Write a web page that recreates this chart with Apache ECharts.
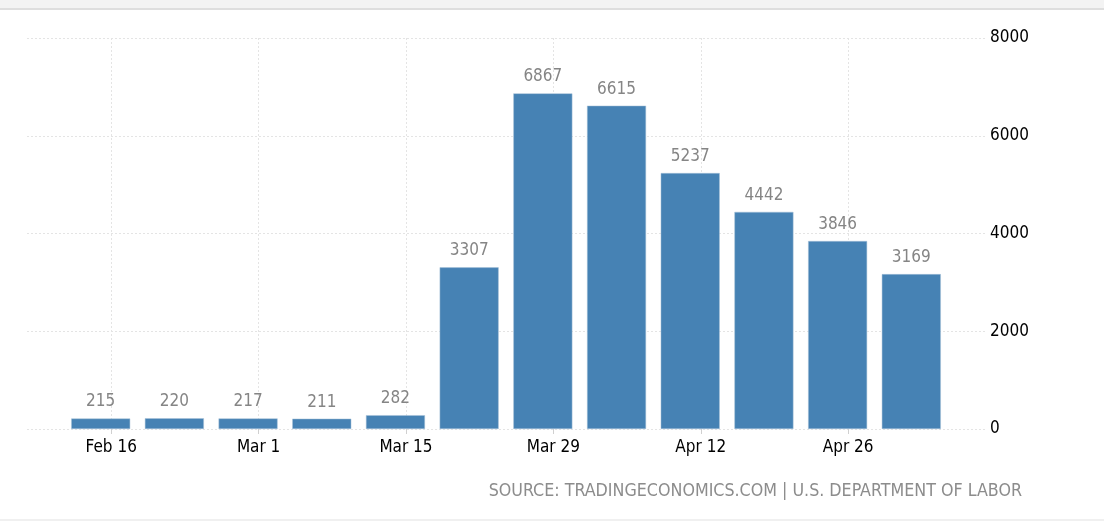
<!DOCTYPE html>
<html>
<head>
<meta charset="utf-8">
<script src="https://cdn.jsdelivr.net/npm/echarts@6/dist/echarts.min.js"></script>
<style>
html,body{margin:0;padding:0;background:#fff;}
#chart{width:1104px;height:521px;}
</style>
</head>
<body>
<div id="chart"></div>
<script>
// ---- data ----
const weeks = ['2020-02-15','2020-02-22','2020-02-29','2020-03-07','2020-03-14','2020-03-21','2020-03-28','2020-04-04','2020-04-11','2020-04-18','2020-04-25','2020-05-02'];
const claims = [215, 220, 217, 211, 282, 3307, 6867, 6615, 5237, 4442, 3846, 3169];
const tickDates = ['2020-02-16','2020-03-01','2020-03-15','2020-03-29','2020-04-12','2020-04-26'];
const tickLabels = ['Feb 16','Mar 1','Mar 15','Mar 29','Apr 12','Apr 26'];
const yTicks = [0, 2000, 4000, 6000, 8000];
const sourceText = 'SOURCE: TRADINGECONOMICS.COM | U.S. DEPARTMENT OF LABOR';

// ---- helpers ----
const BASE = Date.parse('2020-02-16');
const day = d => (Date.parse(d) - BASE) / 86400000;
const tickDays = tickDates.map(day);
const FONT = '"DejaVu Sans Condensed", "DejaVu Sans", sans-serif';

const chart = echarts.init(document.getElementById('chart'), null, {renderer: 'canvas'});
chart.setOption({
  animation: false,
  backgroundColor: '#fff',
  grid: {left: 27, right: 119, top: 38, bottom: 92, containLabel: false},
  xAxis: {
    type: 'value',
    min: day('2020-02-08'),
    max: day('2020-05-09'),
    axisLine: {show: false},
    axisTick: {show: true, customValues: tickDays, length: 5, lineStyle: {color: '#d0d0d0'}},
    axisLabel: {
      customValues: tickDays,
      margin: 10,
      color: '#000',
      fontFamily: FONT,
      fontSize: 17,
      formatter: v => { const i = tickDays.indexOf(v); return i >= 0 ? tickLabels[i] : ''; }
    },
    splitLine: {show: true, lineStyle: {color: '#e4e4e4', type: [2, 2], width: 1}}
  },
  yAxis: {
    type: 'value',
    position: 'right',
    min: yTicks[0],
    max: yTicks[yTicks.length - 1],
    interval: yTicks[1] - yTicks[0],
    axisLine: {show: false},
    axisTick: {show: false},
    axisLabel: {margin: 5, color: '#000', fontFamily: FONT, fontSize: 17, align: 'left', padding: [4, 0, 0, 0], formatter: v => String(v)},
    splitLine: {show: true, lineStyle: {color: '#e4e4e4', type: [2, 2], width: 1}}
  },
  graphic: [
    {type: 'rect', shape: {x: 0, y: 0, width: 1104, height: 8}, style: {fill: '#f3f3f3'}, silent: true},
    {type: 'rect', shape: {x: 0, y: 8, width: 1104, height: 2}, style: {fill: '#dedede'}, silent: true},
    {type: 'rect', shape: {x: 0, y: 519, width: 1104, height: 2}, style: {fill: '#f0f0f0'}, silent: true},
    {type: 'text', right: 82, top: 482, style: {text: sourceText, fill: '#8c8c8c', font: '17.7px ' + FONT}}
  ],
  series: [{
    type: 'bar',
    data: weeks.map((w, i) => [day(w), claims[i]]),
    barWidth: 59,
    itemStyle: {color: '#4682b4', borderColor: '#a9c2d9', borderWidth: 0.5},
    label: {
      show: true,
      position: 'top',
      distance: 8,
      color: '#858585',
      fontFamily: FONT,
      fontSize: 17
    }
  }]
});
</script>
</body>
</html>
